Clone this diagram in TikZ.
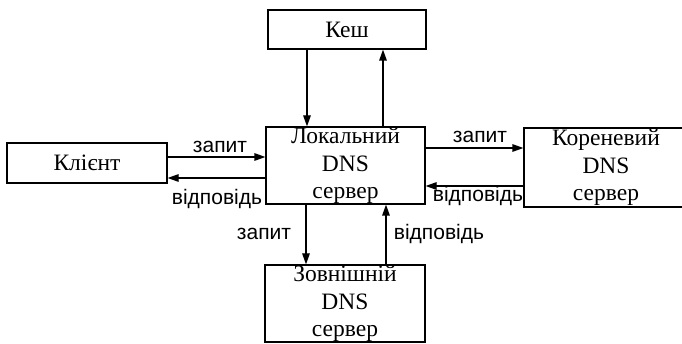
\documentclass[tikz,border=0pt]{standalone}
\usepackage{fontspec}
\setmainfont{Liberation Serif}
\newfontfamily\lblfont{Liberation Sans}
\usetikzlibrary{arrows.meta}
\begin{document}
\begin{tikzpicture}[x=1pt,y=-1pt,
  boxst/.style={draw,line width=1.2pt,inner sep=0pt,align=center,
    font=\fontsize{23.5}{27.5}\selectfont},
  arr/.style={line width=1.2pt,-{Triangle[length=11pt,width=7.5pt]}},
  lbl/.style={font=\lblfont\fontsize{21}{22}\selectfont,anchor=base,inner sep=0pt}]
\useasboundingbox (0,0) rectangle (682,344);
\node[boxst,minimum width=158pt,minimum height=39pt] (cache) at (347,29.5) {Кеш};
\node[boxst,minimum width=160pt,minimum height=40pt] (client) at (87,163) {Клієнт};
\node[boxst,minimum width=159pt,minimum height=77pt] (local) at (345.5,165.5) {Локальний\\DNS\\сервер};
\node[boxst,minimum width=164pt,minimum height=79pt] (root) at (606,167.5) {Кореневий\\DNS\\сервер};
\node[boxst,minimum width=160pt,minimum height=77pt] (ext) at (345,303.5) {Зовнішній\\DNS\\сервер};
% cache
\draw[arr] (307,0 |- cache.south) -- (307,0 |- local.north);
\draw[arr] (383,0 |- local.north) -- (383,0 |- cache.south);
% client
\draw[arr] (client.east |- 0,157) -- (local.west |- 0,157);
\draw[arr] (local.west |- 0,178) -- (client.east |- 0,178);
% root
\draw[arr] (local.east |- 0,148) -- (root.west |- 0,148);
\draw[arr] (root.west |- 0,186) -- (local.east |- 0,186);
% external
\draw[arr] (306,0 |- local.south) -- (306,0 |- ext.north);
\draw[arr] (386,0 |- ext.north) -- (386,0 |- local.south);
% labels
\node[lbl] (l1) at (220,153) {запит};
\node[lbl] (l2) at (217,205) {відповідь};
\node[lbl] (l3) at (480,143) {запит};
\node[lbl] (l4) at (478,202) {відповідь};
\node[lbl] (l5) at (264,240) {запит};
\node[lbl] (l6) at (439,240) {відповідь};
\end{tikzpicture}
\end{document}
